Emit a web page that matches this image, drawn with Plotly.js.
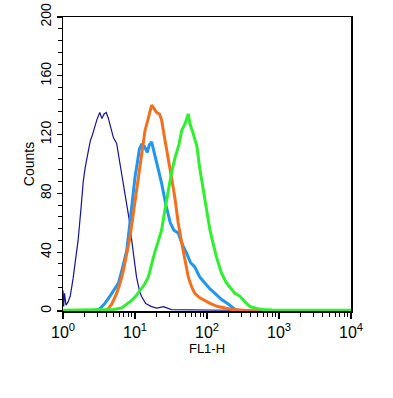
<!DOCTYPE html>
<html><head><meta charset="utf-8">
<script src="https://cdn.plot.ly/plotly-3.0.1.min.js"></script>
<style>html,body{margin:0;padding:0;background:#fff}#chart{width:393px;height:398px}</style>
</head><body><div id="chart"></div>
<script>
// Control (isotype) - navy thin
var navyX = [1.0,1.02,1.05,1.10,1.17,1.26,1.38,1.51,1.62,1.78,1.91,2.04,2.24,2.40,2.57,2.75,2.95,3.24,3.47,3.72,3.98,4.27,4.57,5.01,5.56,6.17,6.92,7.67,8.32,9.0,9.77,10.5,11.5,12.3,14.1,17.0,20,25,32,50,100,200,400,10000];
var navyY = [14,3,12,4,6,10,22,36,48,70,88,98,110,116,120,125,130,135,131,134,135,131,126,118,114,100,87,73,62,48,36,23,14,10,5,3,2,3,1,1,1,0.5,0,0];
// Sky blue
var blueX = [1,2.5,3.16,3.8,4.47,5.25,5.89,6.76,7.67,8.5,9.33,10,10.7,11.5,12.3,13.5,14.8,15.8,17.0,18.6,20.9,23.4,26.9,30.9,34.7,39.8,45.7,52.5,58.9,67.6,79.4,93.3,110,129,158,195,245,316,10000];
var blueY = [0,0,1,5,10,15,19,30,41,60,80,91,100,110,113,112,108,113,115,108,97,87,72,60,55,53,45,39,33,30,23,19,15,12,8,5,1,0,0];
// Orange
var orangeX = [1,3.55,4.17,4.79,5.56,6.31,6.92,7.76,8.51,9.33,10,11.0,11.7,12.9,13.8,15.1,16.2,17.0,18.2,20.0,21.9,23.4,25.7,28.8,32.4,36.3,39.8,44.7,50.1,55,61.7,67.6,79.4,93.3,112,141,178,224,316,501,10000];
var orangeY = [0,0,1,5,12,20,28,40,50,64,75,88,100,114,123,130,137,140,138,135,134,130,118,105,90,75,60,46,33,23,16,12,9,7,5,3,2,1,0.5,0,0];
// Green
var greenX = [1,3.98,5.0,6.53,7.94,8.91,10.2,11.7,13.5,15.3,17.0,19.1,20.9,23.4,26.3,28.8,32.4,36.3,40.7,44.7,50.1,55,57.5,63.1,72.4,79.4,89.1,100,110,123,135,158,182,209,245,288,339,398,501,603,794,1585,10000];
var greenY = [0.5,0.5,1,2,5,7,10,14,18,23,32,41,47,55,70,82,95,105,113,123,128,134,128,122,112,97,82,68,55,45,37,26,20,16,12,10,6,3,1.5,1,0.7,0.5,0.5];

var xTickVals = [1,10,100,1000,10000];
var xTickText = ['10<sup>0</sup>','10<sup>1</sup>','10<sup>2</sup>','10<sup>3</sup>','10<sup>4</sup>'];
var yTickVals = [0,40,80,120,160,200];

var traces = [
  {x: navyX, y: navyY, mode:'lines', line:{color:'#14149c', width:1.2}},
  {x: blueX, y: blueY, mode:'lines', line:{color:'#2196ee', width:3}},
  {x: orangeX, y: orangeY, mode:'lines', line:{color:'#f4701e', width:3}},
  {x: greenX, y: greenY, mode:'lines', line:{color:'#2ef02e', width:3}}
];
var font = {family:'Liberation Sans, Arial, sans-serif', size:13, color:'#000'};
var layout = {
  width:393, height:398, showlegend:false,
  paper_bgcolor:'#fff', plot_bgcolor:'#fff',
  margin:{l:63, r:42, t:17, b:87},
  font: font,
  xaxis:{type:'log', range:[0,4], showgrid:false, zeroline:false,
    showline:true, linecolor:'#000', linewidth:1.5, mirror:true,
    ticks:'outside', ticklen:6, tickwidth:1.2, tickcolor:'#000',
    tickvals:xTickVals, ticktext:xTickText, tickfont:{size:16},
    minor:{ticks:'outside', ticklen:4, tickwidth:1, tickcolor:'#000', dtick:'D1', showgrid:false},
    title:{text:'FL1-H', font:{size:13}, standoff:2}},
  yaxis:{range:[0,200], showgrid:false, zeroline:false,
    showline:true, linecolor:'#000', linewidth:1.5, mirror:true,
    ticks:'outside', ticklen:5, tickwidth:1.2, tickcolor:'#000',
    tickvals:yTickVals, tickangle:-90, tickfont:{size:14},
    minor:{ticks:'outside', ticklen:4, tickwidth:1, tickcolor:'#000', dtick:8, showgrid:false},
    title:{text:'Counts', font:{size:14}, standoff:0}}
};
Plotly.newPlot('chart', traces, layout, {displayModeBar:false, staticPlot:true});
</script></body></html>
